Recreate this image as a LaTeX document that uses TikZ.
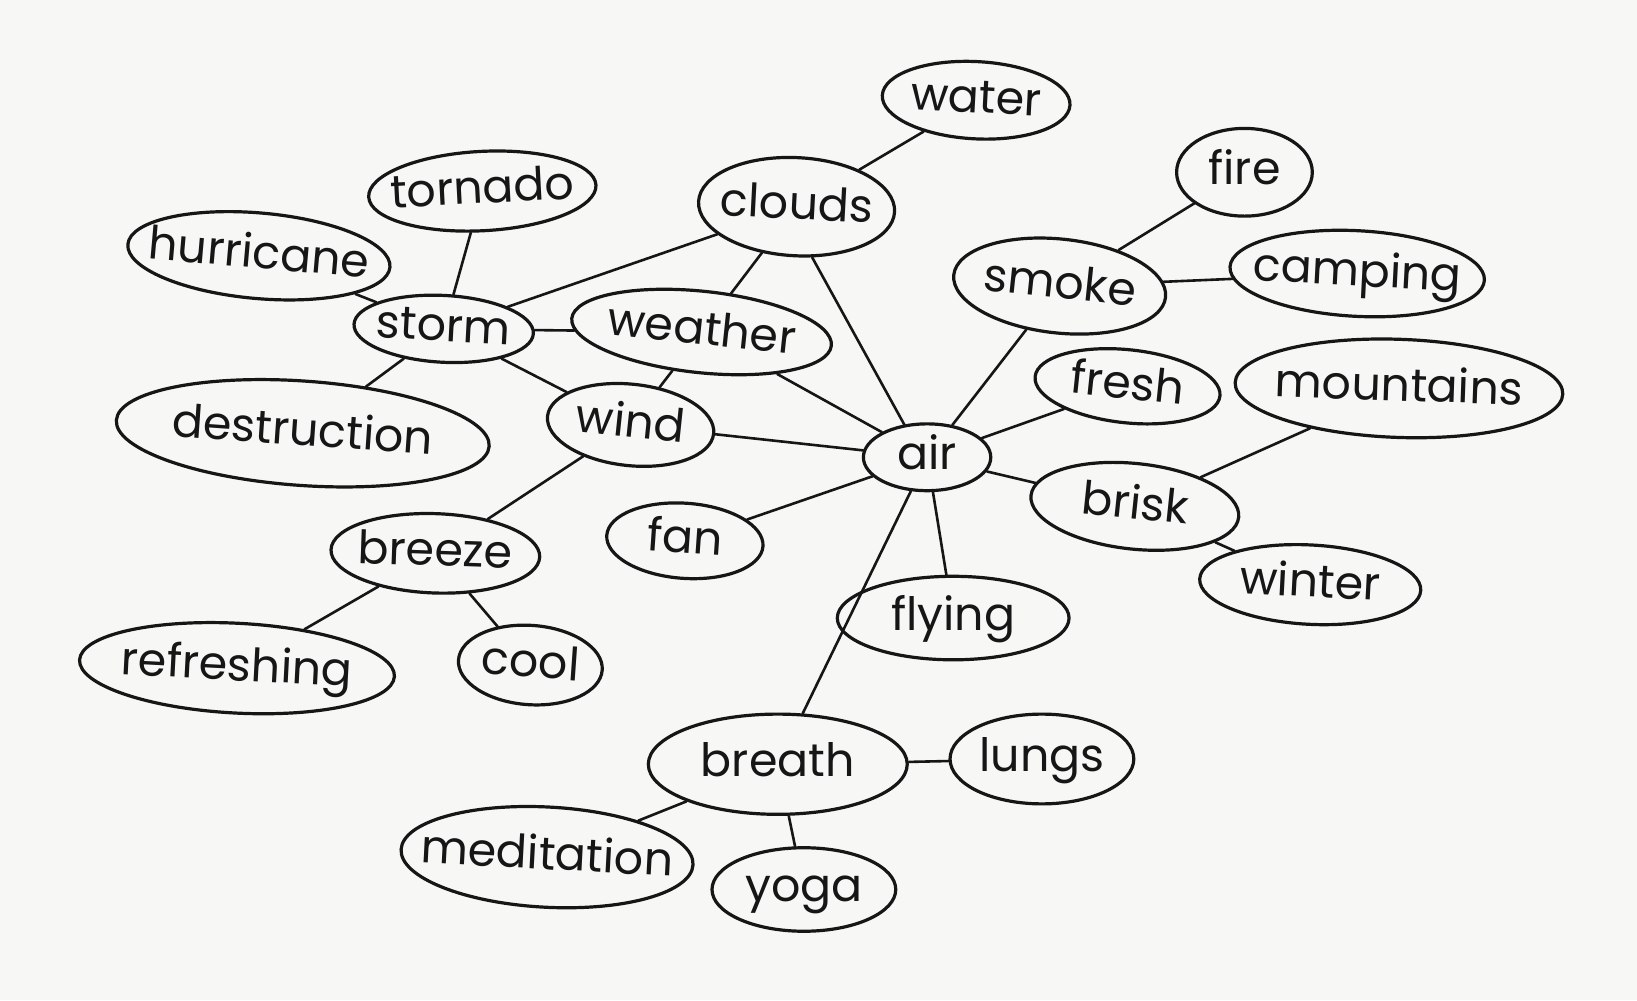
\documentclass[tikz,border=0pt]{standalone}
\usepackage{fontspec}
\setmainfont{Poppins}
\usetikzlibrary{shapes.geometric}
\definecolor{paper}{RGB}{247,247,246}
\definecolor{ink}{RGB}{22,22,22}
\newcommand\wrd[1]{\makebox[0pt]{\raisebox{-0.27em}[0pt][0pt]{#1}}}
\begin{document}
\begin{tikzpicture}[x=1pt,y=-1pt,scale=1.044,transform shape,
  bub/.style={ellipse,draw=ink,line width=3.2pt,inner sep=0pt,text=ink,
    font=\fontsize{44}{48}\selectfont},
  link/.style={draw=ink,line width=2.6pt,line cap=round}]
\fill[paper] (0,0) rectangle (1568,958);
\useasboundingbox (0,0) rectangle (1568,958);
% nodes
\node[bub,minimum width=180,minimum height=74,rotate=-3] (water) at (935,96) {\wrd{water}};
\node[bub,minimum width=188,minimum height=94,rotate=-3] (clouds) at (763,198) {\wrd{clouds}};
\node[bub,minimum width=218,minimum height=76,rotate=3] (tornado) at (462,183) {\wrd{tornado}};
\node[bub,minimum width=252,minimum height=82,rotate=-5] (hurricane) at (248,245) {\wrd{hurricane}};
\node[bub,minimum width=172,minimum height=64,rotate=-3] (storm) at (425,315) {\wrd{storm}};
\node[bub,minimum width=250,minimum height=78,rotate=-6] (weather) at (672,318) {\wrd{weather}};
\node[bub,minimum width=358,minimum height=100,rotate=-4] (destruction) at (290,415) {\wrd{destruction}};
\node[bub,minimum width=160,minimum height=78,rotate=-6] (wind) at (604,407) {\wrd{wind}};
\node[bub,minimum width=122,minimum height=64] (air) at (888,438) {\wrd{air}};
\node[bub,minimum width=204,minimum height=90,rotate=-6] (smoke) at (1015,274) {\wrd{smoke}};
\node[bub,minimum width=130,minimum height=84] (fire) at (1192,165) {\wrd{fire}};
\node[bub,minimum width=244,minimum height=82,rotate=-3] (camping) at (1300,262) {\wrd{camping}};
\node[bub,minimum width=178,minimum height=70,rotate=-6] (fresh) at (1080,370) {\wrd{fresh}};
\node[bub,minimum width=314,minimum height=94,rotate=-2] (mountains) at (1340,372) {\wrd{mountains}};
\node[bub,minimum width=200,minimum height=82,rotate=-6] (brisk) at (1087,485) {\wrd{brisk}};
\node[bub,minimum width=212,minimum height=76,rotate=-3] (winter) at (1255,560) {\wrd{winter}};
\node[bub,minimum width=150,minimum height=72,rotate=-4] (fan) at (656,518) {\wrd{fan}};
\node[bub,minimum width=222,minimum height=80] (flying) at (913,592) {\wrd{flying}};
\node[bub,minimum width=200,minimum height=76,rotate=-2] (breeze) at (417,530) {\wrd{breeze}};
\node[bub,minimum width=302,minimum height=86,rotate=-3] (refreshing) at (227,640) {\wrd{refreshing}};
\node[bub,minimum width=138,minimum height=76,rotate=-4] (cool) at (508,637) {\wrd{cool}};
\node[bub,minimum width=248,minimum height=96] (breath) at (745,732) {\wrd{breath}};
\node[bub,minimum width=176,minimum height=86] (lungs) at (998,727) {\wrd{lungs}};
\node[bub,minimum width=280,minimum height=96,rotate=-3] (meditation) at (524,821) {\wrd{meditation}};
\node[bub,minimum width=176,minimum height=80] (yoga) at (770,852) {\wrd{yoga}};
% links
\draw[link] (water) -- (clouds);
\draw[link] (tornado) -- (storm);
\draw[link] (hurricane) -- (storm);
\draw[link] (storm) -- (clouds);
\draw[link] (storm) -- (weather);
\draw[link] (storm) -- (destruction);
\draw[link] (storm) -- (wind);
\draw[link] (clouds) -- (weather);
\draw[link] (clouds.-70) -- (air.125);
\draw[link] (weather) -- (wind);
\draw[link] (weather) -- (air);
\draw[link] (wind) -- (air);
\draw[link] (wind) -- (breeze);
\draw[link] (breeze) -- (refreshing);
\draw[link] (breeze) -- (cool);
\draw[link] (smoke) -- (fire);
\draw[link] (smoke) -- (camping);
\draw[link] (smoke) -- (air);
\draw[link] (air) -- (fresh);
\draw[link] (air) -- (brisk);
\draw[link] (brisk) -- (mountains);
\draw[link] (brisk) -- (winter);
\draw[link] (air) -- (fan);
\draw[link] (air) -- (flying);
\draw[link] (air) -- (breath);
\draw[link] (breath) -- (lungs);
\draw[link] (breath) -- (meditation);
\draw[link] (breath) -- (yoga);
\end{tikzpicture}
\end{document}
